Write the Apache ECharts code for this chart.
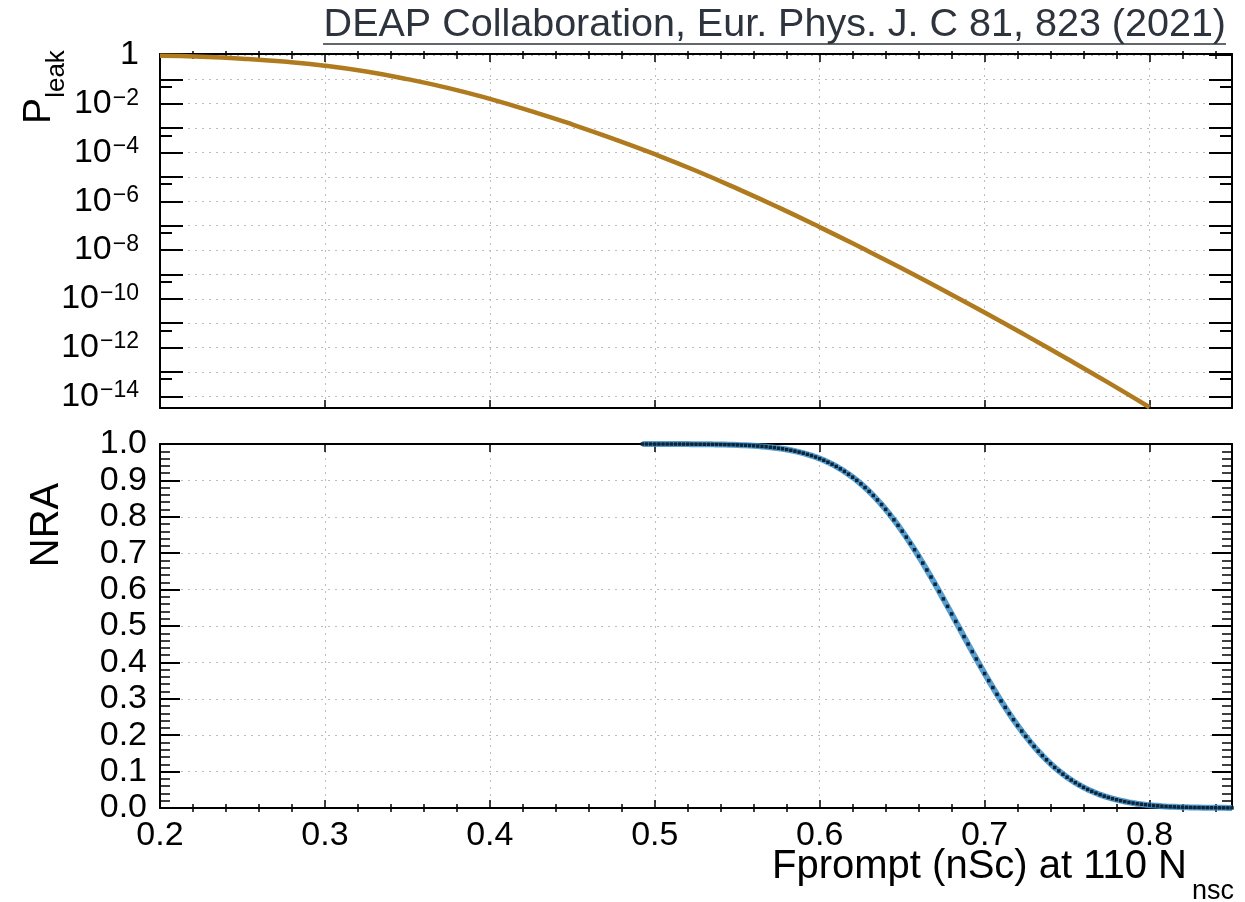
<!DOCTYPE html>
<html>
<head>
<meta charset="utf-8">
<script src="https://cdn.jsdelivr.net/npm/echarts@6/dist/echarts.min.js"></script>
<style>
  html, body { margin: 0; padding: 0; background: #fff; }
  #chart { width: 1245px; height: 902px; }
</style>
</head>
<body>
<div id="chart"></div>
<script>
// Leakage probability of ER events vs. Fprompt cut (upper pad, log scale)
const leakFprompt = [0.2, 0.225, 0.25, 0.275, 0.3, 0.325, 0.35, 0.375, 0.4, 0.425,
  0.45, 0.475, 0.5, 0.525, 0.55, 0.575, 0.6, 0.625, 0.65, 0.675,
  0.7, 0.725, 0.75, 0.775, 0.8];
const leakProb = [0.933, 0.851, 0.708, 0.537, 0.363, 0.209, 0.102, 0.0437, 0.0158, 5.0e-3,
  1.41e-3, 3.63e-4, 8.5e-5, 1.78e-5, 3.3e-6, 5.6e-7, 8.7e-8, 1.26e-8, 1.74e-9, 2.24e-10,
  2.75e-11, 3.16e-12, 3.47e-13, 3.63e-14, 3.55e-15];

// Nuclear recoil acceptance vs. Fprompt cut (lower pad)
const nraFprompt = [0.4925, 0.495, 0.4975, 0.5, 0.5025, 0.505, 0.5075, 0.51, 0.5125, 0.515,
  0.5175, 0.52, 0.5225, 0.525, 0.5275, 0.53, 0.5325, 0.535, 0.5375, 0.54,
  0.5425, 0.545, 0.5475, 0.55, 0.5525, 0.555, 0.5575, 0.56, 0.5625, 0.565,
  0.5675, 0.57, 0.5725, 0.575, 0.5775, 0.58, 0.5825, 0.585, 0.5875, 0.59,
  0.5925, 0.595, 0.5975, 0.6, 0.6025, 0.605, 0.6075, 0.61, 0.6125, 0.615,
  0.6175, 0.62, 0.6225, 0.625, 0.6275, 0.63, 0.6325, 0.635, 0.6375, 0.64,
  0.6425, 0.645, 0.6475, 0.65, 0.6525, 0.655, 0.6575, 0.66, 0.6625, 0.665,
  0.6675, 0.67, 0.6725, 0.675, 0.6775, 0.68, 0.6825, 0.685, 0.6875, 0.69,
  0.6925, 0.695, 0.6975, 0.7, 0.7025, 0.705, 0.7075, 0.71, 0.7125, 0.715,
  0.7175, 0.72, 0.7225, 0.725, 0.7275, 0.73, 0.7325, 0.735, 0.7375, 0.74,
  0.7425, 0.745, 0.7475, 0.75, 0.7525, 0.755, 0.7575, 0.76, 0.7625, 0.765,
  0.7675, 0.77, 0.7725, 0.775, 0.7775, 0.78, 0.7825, 0.785, 0.7875, 0.79,
  0.7925, 0.795, 0.7975, 0.8, 0.8025, 0.805, 0.8075, 0.81, 0.8125, 0.815,
  0.8175, 0.82, 0.8225, 0.825, 0.8275, 0.83, 0.8325, 0.835, 0.8375, 0.84,
  0.8425, 0.845, 0.8475, 0.85];
const nraValue = [1.000, 1.000, 1.000, 0.9999, 0.9999, 0.9999, 0.9999, 0.9999, 0.9998, 0.9998,
  0.9997, 0.9997, 0.9996, 0.9995, 0.9994, 0.9993, 0.9992, 0.9990, 0.9989, 0.9987,
  0.9984, 0.9981, 0.9978, 0.9974, 0.9969, 0.9964, 0.9958, 0.9951, 0.9943, 0.9934,
  0.9924, 0.9912, 0.9899, 0.9884, 0.9868, 0.9849, 0.9828, 0.9804, 0.9778, 0.9749,
  0.9717, 0.9682, 0.9642, 0.9599, 0.9552, 0.9501, 0.9445, 0.9384, 0.9318, 0.9247,
  0.9170, 0.9088, 0.9000, 0.8905, 0.8804, 0.8697, 0.8584, 0.8463, 0.8337, 0.8204,
  0.8064, 0.7917, 0.7765, 0.7606, 0.7442, 0.7271, 0.7096, 0.6915, 0.6729, 0.6539,
  0.6345, 0.6147, 0.5947, 0.5744, 0.5539, 0.5332, 0.5125, 0.4917, 0.4709, 0.4503,
  0.4297, 0.4094, 0.3893, 0.3694, 0.3500, 0.3309, 0.3122, 0.2940, 0.2763, 0.2592,
  0.2426, 0.2266, 0.2113, 0.1965, 0.1825, 0.1690, 0.1562, 0.1440, 0.1325, 0.1217,
  0.1115, 0.1019, 0.0929, 0.0846, 0.0768, 0.0696, 0.0629, 0.0567, 0.0510, 0.0458,
  0.0410, 0.0366, 0.0326, 0.0290, 0.0257, 0.0228, 0.0201, 0.0177, 0.0155, 0.0136,
  0.0119, 0.0104, 0.0090, 0.0078, 0.0068, 0.0059, 0.0050, 0.0043, 0.0037, 0.0032,
  0.0027, 0.0023, 0.0020, 0.0017, 0.0014, 0.0012, 0.0010, 0.0008, 0.0007, 0.0006,
  0.0005, 0.0004, 0.0003, 0.0003];

// Tick positions
const xMajorTicks = [0.2, 0.3, 0.4, 0.5, 0.6, 0.7, 0.8];
const xMinorTicks = [0.22, 0.24, 0.26, 0.28, 0.32, 0.34, 0.36, 0.38, 0.42, 0.44, 0.46, 0.48,
  0.52, 0.54, 0.56, 0.58, 0.62, 0.64, 0.66, 0.68, 0.72, 0.74, 0.76, 0.78, 0.82, 0.84];
const leakDecadeTicks = [0, -1, -2, -3, -4, -5, -6, -7, -8, -9, -10, -11, -12, -13, -14];
const leakLabelDecades = [0, -2, -4, -6, -8, -10, -12, -14];
const leakHalfTicks = [-1.3, -3.3, -5.3, -7.3, -9.3, -11.3, -13.3];

const X_MIN = 0.2, X_MAX = 0.85;
const LOG_MIN = -14.48, LOG_MAX = 0.04;   // decade range of the upper pad

const FONT = '"Liberation Sans", Arial, Helvetica, sans-serif';
const INK = '#000';
const gridDots = { show: true, lineStyle: { color: '#bcbcbc', width: 1, type: [2, 5] } };
const noSplit = { show: false };

function xAxisDef(gridIndex, position, ticks, len, opts) {
  return Object.assign({
    type: 'value', gridIndex, position, min: X_MIN, max: X_MAX,
    axisLine: { show: false },
    axisTick: { show: true, inside: true, length: len, customValues: ticks,
                lineStyle: { color: INK, width: 1.5 } },
    axisLabel: { show: false },
    splitLine: noSplit
  }, opts || {});
}
function frameLine() {
  return { show: true, onZero: false, lineStyle: { color: INK, width: 2 } };
}

const xAxes = [
  // upper pad
  xAxisDef(0, 'bottom', xMajorTicks, 8, { axisLine: frameLine(), splitLine: gridDots }),
  xAxisDef(0, 'bottom', xMinorTicks, 4),
  xAxisDef(0, 'top', xMajorTicks, 8, { axisLine: frameLine() }),
  xAxisDef(0, 'top', xMinorTicks, 4),
  // lower pad
  xAxisDef(1, 'bottom', xMajorTicks, 8, {
    axisLine: frameLine(), splitLine: gridDots,
    axisLabel: { show: true, customValues: xMajorTicks, margin: 11, color: INK,
                 fontFamily: FONT, fontSize: 34, formatter: v => v.toFixed(1) }
  }),
  xAxisDef(1, 'bottom', xMinorTicks, 4),
  xAxisDef(1, 'top', xMajorTicks, 8, { axisLine: frameLine() }),
  xAxisDef(1, 'top', xMinorTicks, 4)
];

function leakTickAxis(position, ticks, len, opts) {
  return Object.assign({
    type: 'value', gridIndex: 0, position, min: LOG_MIN, max: LOG_MAX,
    axisLine: { show: false },
    axisTick: { show: true, inside: true, length: len, customValues: ticks,
                lineStyle: { color: INK, width: 2 } },
    axisLabel: { show: false },
    splitLine: noSplit
  }, opts || {});
}
function nraAxis(position, opts) {
  return Object.assign({
    type: 'value', gridIndex: 1, position, min: 0, max: 1, interval: 0.1,
    axisLine: frameLine(),
    axisTick: { show: true, inside: true, length: 20, lineStyle: { color: INK, width: 2 } },
    minorTick: { show: true, splitNumber: 5, length: 10, lineStyle: { color: INK, width: 1.5 } },
    axisLabel: { show: false },
    splitLine: noSplit
  }, opts || {});
}

const yAxes = [
  // 0: data axis of the upper pad (logarithmic)
  { type: 'log', logBase: 10, gridIndex: 0, show: false,
    min: Math.pow(10, LOG_MIN), max: Math.pow(10, LOG_MAX) },
  // 1-4: decade ticks, labels and frame of the upper pad
  leakTickAxis('left', leakDecadeTicks, 23, {
    axisLine: frameLine(), splitLine: gridDots,
    axisLabel: {
      show: true, customValues: leakLabelDecades, margin: 21, color: INK,
      formatter: v => {
        const n = Math.round(v);
        return n === 0 ? '{b|1}' : '{b|10}{s|\u2212' + (-n) + '}';
      },
      rich: {
        b: { fontFamily: FONT, fontSize: 34, lineHeight: 34, color: INK },
        s: { fontFamily: FONT, fontSize: 23, lineHeight: 23, color: INK,
             verticalAlign: 'top', padding: [0, 0, 4, 1] }
      }
    }
  }),
  leakTickAxis('left', leakHalfTicks, 12),
  leakTickAxis('right', leakDecadeTicks, 23, { axisLine: frameLine() }),
  leakTickAxis('right', leakHalfTicks, 12),
  // 5: data axis of the lower pad, with labels
  nraAxis('left', {
    splitLine: gridDots,
    axisLabel: { show: true, margin: 13, color: INK, fontFamily: FONT, fontSize: 34,
                 formatter: v => v.toFixed(1) }
  }),
  nraAxis('right')
];

const option = {
  animation: false,
  backgroundColor: '#ffffff',
  grid: [
    { left: 160, right: 13, top: 54, height: 354 },
    { left: 160, right: 13, top: 444, height: 364 }
  ],
  xAxis: xAxes,
  yAxis: yAxes,
  series: [
    {
      name: 'P_leak', type: 'line', xAxisIndex: 0, yAxisIndex: 0,
      data: leakFprompt.map((x, i) => [x, leakProb[i]]),
      smooth: true, showSymbol: false,
      lineStyle: { color: '#b07a1e', width: 4.5 }
    },
    {
      name: 'NRA', type: 'line', xAxisIndex: 4, yAxisIndex: 5,
      data: nraFprompt.map((x, i) => [x, nraValue[i]]),
      showSymbol: true, showAllSymbol: true, symbol: 'rect', symbolSize: 3.5,
      itemStyle: { color: '#0b2438' },
      lineStyle: { color: '#3a8dc9', width: 6, opacity: 0.85 }
    }
  ],
  graphic: [
    { type: 'text', x: 1226, y: 25,
      style: { text: 'DEAP Collaboration, Eur. Phys. J. C 81, 823 (2021)',
               font: '39.5px ' + FONT, fill: '#2e343d', align: 'right', verticalAlign: 'middle' } },
    { type: 'line', shape: { x1: 323, y1: 44, x2: 1226, y2: 44 },
      style: { stroke: '#2e343d', lineWidth: 1.5 } },
    { type: 'text', x: 39, y: 111, rotation: Math.PI / 2,
      style: { text: 'P', font: '39px ' + FONT, fill: INK, align: 'center', verticalAlign: 'middle' } },
    { type: 'text', x: 57, y: 74, rotation: Math.PI / 2,
      style: { text: 'leak', font: '26px ' + FONT, fill: INK, align: 'center', verticalAlign: 'middle' } },
    { type: 'text', x: 47, y: 525, rotation: Math.PI / 2,
      style: { text: 'NRA', font: '40px ' + FONT, fill: INK, align: 'center', verticalAlign: 'middle' } },
    { type: 'text', x: 1187, y: 867,
      style: { text: 'Fprompt (nSc) at 110 N', font: '40px ' + FONT, fill: INK,
               align: 'right', verticalAlign: 'middle' } },
    { type: 'text', x: 1192, y: 892,
      style: { text: 'nsc', font: '27px ' + FONT, fill: INK, align: 'left', verticalAlign: 'middle' } }
  ]
};

const chart = echarts.init(document.getElementById('chart'), null, { renderer: 'canvas' });
chart.setOption(option);
</script>
</body>
</html>
